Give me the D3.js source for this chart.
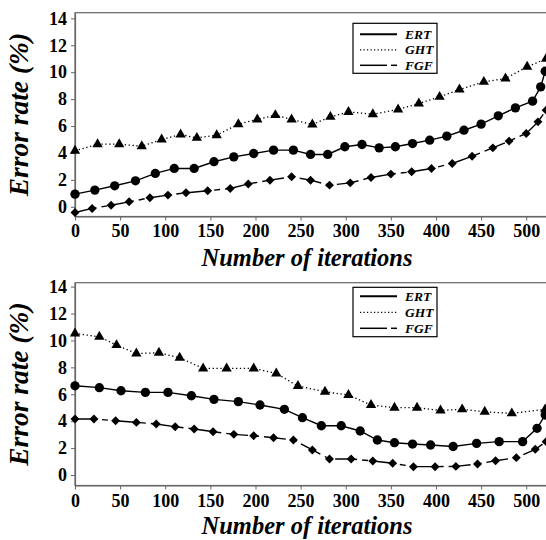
<!DOCTYPE html>
<html>
<head>
<meta charset="utf-8">
<script src="https://cdn.jsdelivr.net/npm/d3@7"></script>
<style>
html,body{margin:0;padding:0;background:#fff;overflow:hidden;}
svg{display:block;}
text{font-family:"Liberation Serif","Times New Roman",serif;font-weight:bold;fill:#000;}
</style>
</head>
<body>
<script>
// ---------- data ----------
const seriesNames = ["ERT", "GHT", "FGF"];
const xTicks = [0, 50, 100, 150, 200, 250, 300, 350, 400, 450, 500];
const yTicks = [0, 2, 4, 6, 8, 10, 12, 14];

// top panel
const topErtIter = [0,22,44,67,89,110,132,154,176,198,220,242,261,280,299,318,337,355,374,393,412,431,450,469,488,507,516,521];
const topErtVal  = [0.94,1.24,1.56,1.93,2.48,2.85,2.85,3.35,3.71,3.96,4.21,4.21,3.89,3.89,4.46,4.63,4.38,4.46,4.7,4.95,5.25,5.69,6.14,6.76,7.35,7.85,8.91,10.07];
const topGhtIter = [0,25,49,74,96,117,135,157,181,202,222,240,263,283,303,330,358,381,404,426,453,477,501,522];
const topGhtVal  = [4.16,4.65,4.65,4.5,5.0,5.37,5.12,5.32,6.14,6.49,6.81,6.49,6.11,6.68,7.05,6.88,7.23,7.67,8.17,8.71,9.28,9.53,10.4,11.0];
const topFgfIter = [0,19,40,60,83,103,123,147,172,192,216,240,261,282,305,328,350,373,395,418,440,463,481,500,513,522];
const topFgfVal  = [-0.42,-0.12,0.12,0.37,0.67,0.87,1.04,1.19,1.36,1.7,1.98,2.23,1.98,1.61,1.78,2.18,2.43,2.6,2.85,3.22,3.76,4.38,4.88,5.45,6.31,7.18];

// bottom panel
const botErtIter = [0,27,51,78,103,129,154,181,205,232,252,273,295,316,335,354,374,394,419,445,470,496,512,521];
const botErtVal  = [6.63,6.49,6.26,6.14,6.14,5.89,5.62,5.45,5.2,4.88,4.26,3.66,3.66,3.27,2.6,2.4,2.3,2.23,2.12,2.35,2.48,2.48,3.47,4.46];
const botGhtIter = [0,27,46,68,93,116,142,168,198,223,247,277,303,328,354,379,405,429,454,484,521];
const botGhtVal  = [10.52,10.27,9.65,9.03,9.08,8.71,7.92,7.92,7.92,7.55,6.61,6.19,5.94,5.2,5.0,5.0,4.8,4.88,4.7,4.58,4.88];
const botFgfIter = [0,21,45,68,90,111,132,153,176,198,220,242,263,282,306,330,352,375,399,422,446,466,489,510,522];
const botFgfVal  = [4.16,4.16,4.03,3.91,3.79,3.59,3.42,3.22,3.02,2.92,2.77,2.6,1.86,1.19,1.19,1.04,0.87,0.62,0.62,0.64,0.82,1.06,1.29,1.91,2.48];

// ---------- chart ----------
const W = 546, H = 540;
const svg = d3.select("body").append("svg").attr("width", W).attr("height", H);

const plotLeft = 75, plotRight = 547;
const x = d3.scaleLinear().domain([0, 523]).range([plotLeft, plotRight]);

const styles = {
  ERT: {dash: null, width: 1.4, symbol: d3.symbolCircle, size: 68, rot: 0},
  GHT: {dash: "1.3,2.6", width: 1.3, symbol: d3.symbolTriangle, size: 46, rot: 0},
  FGF: {dash: "22,5,6,5", width: 1.4, symbol: d3.symbolSquare, size: 40, rot: 45}
};

function drawPanel(cfg) {
  const y = d3.scaleLinear().domain(cfg.yDomain).range([cfg.bottom, cfg.top]);
  const g = svg.append("g");

  // frame (top line; right side is off-canvas)
  g.append("rect")
    .attr("x", plotLeft).attr("y", cfg.top)
    .attr("width", plotRight - plotLeft + 20).attr("height", cfg.bottom - cfg.top)
    .attr("fill", "none").attr("stroke", "#666").attr("stroke-width", 1.2);

  // axes
  const xa = g.append("g").attr("transform", `translate(0,${cfg.bottom})`)
    .call(d3.axisBottom(x).tickValues(xTicks).tickSize(4).tickPadding(cfg.xPad).tickSizeOuter(0));
  const ya = g.append("g").attr("transform", `translate(${plotLeft},0)`)
    .call(d3.axisLeft(y).tickValues(yTicks).tickSize(4).tickPadding(4).tickSizeOuter(0));
  [xa, ya].forEach(a => {
    a.select(".domain").attr("stroke", "#666").attr("stroke-width", 1.2);
    a.selectAll(".tick line").attr("stroke", "#666");
    a.selectAll("text").attr("font-family", "Liberation Serif, serif")
      .attr("font-weight", "bold").attr("font-size", 18).attr("fill", "#000");
  });

  // axis titles
  g.append("text").attr("x", 307).attr("y", cfg.bottom + cfg.titleOff)
    .attr("text-anchor", "middle").attr("font-size", 24.5).attr("font-style", "italic")
    .text("Number of iterations");
  const cy = (cfg.top + cfg.bottom) / 2;
  g.append("text").attr("transform", `translate(28,${cy}) rotate(-90)`)
    .attr("text-anchor", "middle").attr("font-size", 27.5).attr("font-style", "italic")
    .text("Error rate (%)");

  // series
  const clipId = "clip" + cfg.id;
  svg.append("clipPath").attr("id", clipId).append("rect")
    .attr("x", plotLeft - 10).attr("y", cfg.top).attr("width", W).attr("height", cfg.bottom - cfg.top + 6);
  const plot = g.append("g").attr("clip-path", `url(#${clipId})`);
  const line = d3.line().x(d => x(d[0])).y(d => y(d[1]));

  cfg.series.forEach((s, i) => {
    const name = seriesNames[i];
    const st = styles[name];
    const pts = s.iter.map((it, k) => [it, s.val[k]]);
    plot.append("path").datum(pts).attr("d", line)
      .attr("fill", "none").attr("stroke", "#000").attr("stroke-width", st.width)
      .attr("stroke-dasharray", st.dash);
    plot.selectAll(null).data(pts).enter().append("path")
      .attr("d", d3.symbol().type(st.symbol).size(st.size))
      .attr("transform", d => `translate(${x(d[0])},${y(d[1])}) rotate(${st.rot})`)
      .attr("fill", "#000");
  });

  // legend
  const lg = g.append("g");
  lg.append("rect").attr("x", 353).attr("y", cfg.top + cfg.legTop)
    .attr("width", 84).attr("height", cfg.legH)
    .attr("fill", "#fff").attr("stroke", "#000").attr("stroke-width", 1.2);
  seriesNames.forEach((name, i) => {
    const ly = cfg.top + cfg.legTop + cfg.legRow0 + i * cfg.legStep;
    if (name === "FGF") {
      lg.append("line").attr("x1", 360).attr("x2", 387).attr("y1", ly).attr("y2", ly)
        .attr("stroke", "#000").attr("stroke-width", 1.5);
      lg.append("line").attr("x1", 391).attr("x2", 397).attr("y1", ly).attr("y2", ly)
        .attr("stroke", "#000").attr("stroke-width", 1.5);
    } else {
      lg.append("line").attr("x1", 360).attr("x2", 397).attr("y1", ly).attr("y2", ly)
        .attr("stroke", "#000").attr("stroke-width", name === "ERT" ? 2 : 1.2)
        .attr("stroke-dasharray", name === "GHT" ? "1.2,2.3" : null);
    }
    lg.append("text").attr("x", 405).attr("y", ly + 4.5)
      .attr("font-size", 13.5).attr("font-style", "italic").text(name);
  });
}

drawPanel({
  id: 0, top: 12.7, bottom: 216.5, yDomain: [-0.72, 14.42], xPad: 4, titleOff: 49,
  legTop: 10.6, legH: 50, legRow0: 11, legStep: 15.5,
  series: [
    {iter: topErtIter, val: topErtVal},
    {iter: topGhtIter, val: topGhtVal},
    {iter: topFgfIter, val: topFgfVal}
  ]
});
drawPanel({
  id: 1, top: 282.7, bottom: 485.5, yDomain: [-0.78, 14.29], xPad: 5, titleOff: 48.5,
  legTop: 4.6, legH: 49.4, legRow0: 9, legStep: 16,
  series: [
    {iter: botErtIter, val: botErtVal},
    {iter: botGhtIter, val: botGhtVal},
    {iter: botFgfIter, val: botFgfVal}
  ]
});
</script>
</body>
</html>
